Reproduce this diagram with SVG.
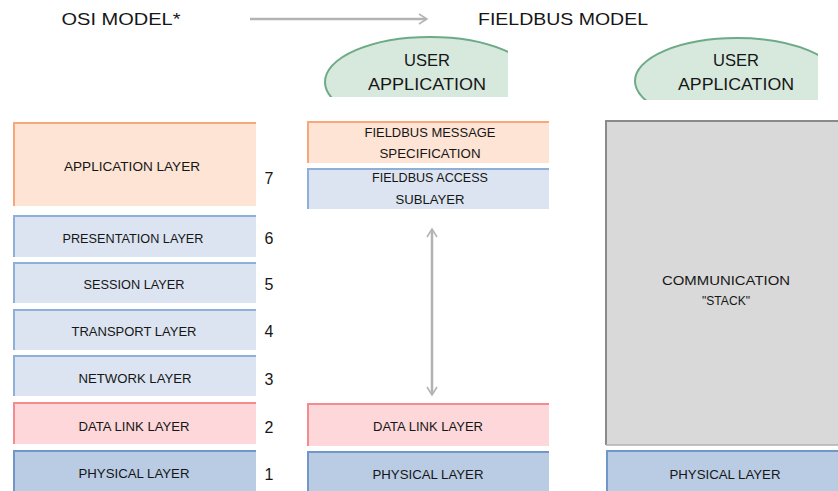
<svg xmlns="http://www.w3.org/2000/svg" width="838" height="491" viewBox="0 0 838 491">
<defs>
<style>
text{font-family:"Liberation Sans",Arial,sans-serif;fill:#161616;text-anchor:middle}
.t{font-size:17px}
.l{font-size:13px}
.s{font-size:12px}
.n{font-size:16px}
.ua{font-size:17px}
.app{fill:#fde4d5}.appE{fill:none;stroke:#f8a77b;stroke-width:2}
.blu{fill:#dbe4f0}.bluE{fill:none;stroke:#8eafd7;stroke-width:2}
.dl{fill:#fdd7d9}.dlE{fill:none;stroke:#f48b8f;stroke-width:2}
.ph{fill:#b9cce4}.phE{fill:none;stroke:#7197c9;stroke-width:2}
.gr{fill:#d9d9d9}.grE{fill:none;stroke:#8a8a8a;stroke-width:2}
.ell{fill:#d7e8dd;stroke:#6dab86;stroke-width:2}
.con{fill:none;stroke:#b3b3b3;stroke-width:2.5}
.hd{fill:none;stroke:#b3b3b3;stroke-width:1.5}
</style>
<clipPath id="c1"><rect x="300" y="20" width="208" height="77"/></clipPath>
<clipPath id="c2"><rect x="610" y="20" width="208" height="80"/></clipPath>
</defs>
<rect width="838" height="491" fill="#ffffff"/>

<g id="titles">
<text class="t" x="121" y="25" textLength="119" lengthAdjust="spacingAndGlyphs">OSI MODEL*</text>
<text class="t" x="563" y="25" textLength="170" lengthAdjust="spacingAndGlyphs">FIELDBUS MODEL</text>
</g>

<g id="connectors">
<line class="con" x1="250" y1="19" x2="426" y2="19"/>
<path class="hd" d="M419,14 L427,19 L419,24"/>
<line class="con" x1="432" y1="230" x2="432" y2="394"/>
<path class="hd" d="M427,237 L432,229 L437,237"/>
<path class="hd" d="M427,387 L432,395 L437,387"/>
</g>

<g id="osi-application">
<rect class="app" x="13" y="122" width="243" height="84"/>
<path class="appE" d="M14,206 V123 H256"/>
<text class="l" x="132" y="171" textLength="136" lengthAdjust="spacingAndGlyphs">APPLICATION LAYER</text>
<text class="n" x="269" y="184">7</text>
</g>
<g id="osi-presentation">
<rect class="blu" x="13" y="215" width="243" height="42"/>
<path class="bluE" d="M14,257 V216 H256"/>
<text class="l" x="133" y="243" textLength="141" lengthAdjust="spacingAndGlyphs">PRESENTATION LAYER</text>
<text class="n" x="269" y="244">6</text>
</g>
<g id="osi-session">
<rect class="blu" x="13" y="262" width="243" height="41"/>
<path class="bluE" d="M14,303 V263 H256"/>
<text class="l" x="134" y="289" textLength="101" lengthAdjust="spacingAndGlyphs">SESSION LAYER</text>
<text class="n" x="269" y="290">5</text>
</g>
<g id="osi-transport">
<rect class="blu" x="13" y="309" width="243" height="41"/>
<path class="bluE" d="M14,350 V310 H256"/>
<text class="l" x="134" y="336" textLength="125" lengthAdjust="spacingAndGlyphs">TRANSPORT LAYER</text>
<text class="n" x="269" y="337">4</text>
</g>
<g id="osi-network">
<rect class="blu" x="13" y="355" width="243" height="41"/>
<path class="bluE" d="M14,396 V356 H256"/>
<text class="l" x="135" y="383" textLength="113" lengthAdjust="spacingAndGlyphs">NETWORK LAYER</text>
<text class="n" x="269" y="385">3</text>
</g>
<g id="osi-datalink">
<rect class="dl" x="13" y="402" width="243" height="42"/>
<path class="dlE" d="M14,444 V403 H256"/>
<text class="l" x="134" y="431" textLength="111" lengthAdjust="spacingAndGlyphs">DATA LINK LAYER</text>
<text class="n" x="269" y="433">2</text>
</g>
<g id="osi-physical">
<rect class="ph" x="13" y="450" width="243" height="41"/>
<path class="phE" d="M14,491 V451 H256"/>
<text class="l" x="134" y="478" textLength="111" lengthAdjust="spacingAndGlyphs">PHYSICAL LAYER</text>
<text class="n" x="269" y="480">1</text>
</g>

<g id="fb-user-application">
<ellipse class="ell" cx="430" cy="82" rx="105" ry="45" clip-path="url(#c1)"/>
<text class="ua" x="427" y="66" textLength="46" lengthAdjust="spacingAndGlyphs">USER</text>
<text class="ua" x="427" y="90" textLength="118" lengthAdjust="spacingAndGlyphs">APPLICATION</text>
</g>
<g id="fb-fms">
<rect class="app" x="307" y="121" width="242" height="42"/>
<path class="appE" d="M308,163 V122 H549"/>
<text class="l" x="430" y="137" textLength="131" lengthAdjust="spacingAndGlyphs">FIELDBUS MESSAGE</text>
<text class="l" x="430" y="158" textLength="101" lengthAdjust="spacingAndGlyphs">SPECIFICATION</text>
</g>
<g id="fb-fas">
<rect class="blu" x="307" y="168" width="242" height="41"/>
<path class="bluE" d="M308,209 V169 H549"/>
<text class="l" x="430" y="182" textLength="116" lengthAdjust="spacingAndGlyphs">FIELDBUS ACCESS</text>
<text class="l" x="430" y="204" textLength="69" lengthAdjust="spacingAndGlyphs">SUBLAYER</text>
</g>
<g id="fb-datalink">
<rect class="dl" x="307" y="403" width="242" height="43"/>
<path class="dlE" d="M308,446 V404 H549"/>
<text class="l" x="428" y="431" textLength="110" lengthAdjust="spacingAndGlyphs">DATA LINK LAYER</text>
</g>
<g id="fb-physical">
<rect class="ph" x="307" y="451" width="242" height="40"/>
<path class="phE" d="M308,491 V452 H549"/>
<text class="l" x="428" y="479" textLength="111" lengthAdjust="spacingAndGlyphs">PHYSICAL LAYER</text>
</g>

<g id="dev-user-application">
<ellipse class="ell" cx="737" cy="81" rx="102" ry="43" clip-path="url(#c2)"/>
<text class="ua" x="736" y="66" textLength="46" lengthAdjust="spacingAndGlyphs">USER</text>
<text class="ua" x="736" y="90" textLength="116" lengthAdjust="spacingAndGlyphs">APPLICATION</text>
</g>
<g id="dev-stack">
<rect class="gr" x="605" y="120" width="233" height="325"/>
<path class="grE" d="M606,445 V121 H838"/>
<path d="M606,445 H838" stroke="#b0b0b0" stroke-width="1.5" fill="none"/>
<text class="l" x="726" y="285" textLength="128" lengthAdjust="spacingAndGlyphs">COMMUNICATION</text>
<text class="s" x="726" y="305" textLength="48" lengthAdjust="spacingAndGlyphs">"STACK"</text>
</g>
<g id="dev-physical">
<rect class="ph" x="606" y="450" width="232" height="41"/>
<path class="phE" d="M607,491 V451 H838"/>
<text class="l" x="725" y="479" textLength="111" lengthAdjust="spacingAndGlyphs">PHYSICAL LAYER</text>
</g>
</svg>
